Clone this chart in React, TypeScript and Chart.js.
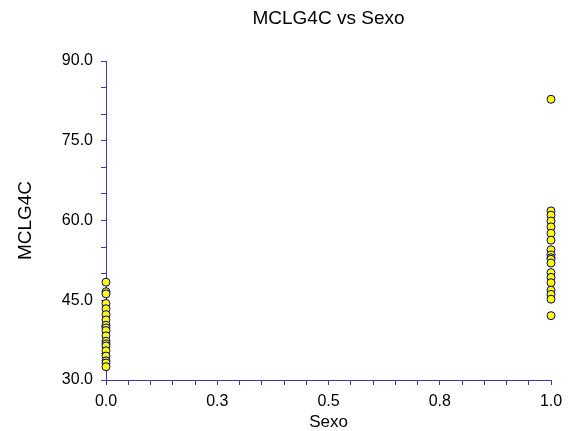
import React, { useEffect, useRef } from "react";
import { Chart, registerables } from "chart.js";

Chart.register(...registerables);

const chartTitle = "MCLG4C vs Sexo";
const xTitle = "Sexo";
const yTitle = "MCLG4C";

// MCLG4C values for Sexo = 0
const sexo0Values = [48.4, 46.6, 46.2, 44.4, 43.4, 42.3, 41.3, 40.3, 39.8, 39.3, 38.3, 37.3, 36.8, 36.4, 35.5, 34.5, 33.6, 33.2, 32.5];
// MCLG4C values for Sexo = 1
const sexo1Values = [82.8, 61.8, 61.0, 59.9, 58.8, 57.6, 56.3, 54.5, 53.5, 53.0, 52.7, 52.0, 50.2, 49.3, 48.3, 46.9, 46.1, 45.2, 42.1];

const xMin = 0, xMax = 1, xStep = 0.05;
const yMin = 30, yMax = 90, yStep = 5;
const yLabelValues = [30, 45, 60, 75, 90];
const xLabelValues = [0, 0.25, 0.5, 0.75, 1];

const FONT = "'Liberation Sans', Arial, sans-serif";
const AXIS_COLOR = "#3a3ab0";

export default function App() {
  const ref = useRef<HTMLCanvasElement | null>(null);

  useEffect(() => {
    if (!ref.current) return;
    const points = [
      ...sexo0Values.map((v) => ({ x: 0, y: v })),
      ...sexo1Values.map((v) => ({ x: 1, y: v })),
    ];
    const chart = new Chart(ref.current, {
      type: "scatter",
      data: {
        datasets: [
          {
            data: points,
            backgroundColor: "#ffff00",
            borderColor: "#000080",
            borderWidth: 1,
            pointRadius: 4,
            clip: false,
          } as any,
        ],
      },
      options: {
        responsive: false,
        animation: false,
        layout: { padding: { left: 0, right: 28, top: 0, bottom: 0 } },
        plugins: {
          legend: { display: false },
          tooltip: { enabled: false },
          title: {
            display: true,
            text: chartTitle,
            fullSize: false,
            color: "#000",
            font: { family: FONT, size: 19, weight: "normal", lineHeight: 1.2 },
            padding: { top: 7, bottom: 31.2 },
          },
        },
        scales: {
          x: {
            type: "linear",
            min: xMin,
            max: xMax,
            afterFit: (s: any) => { s.height = 51; },
            grid: { display: true, drawOnChartArea: false, drawTicks: true, tickLength: 5, color: AXIS_COLOR },
            border: { display: true, color: AXIS_COLOR, width: 1 },
            ticks: {
              stepSize: xStep,
              autoSkip: false,
              maxRotation: 0,
              padding: 7,
              color: "#000",
              font: { family: FONT, size: 16 },
              callback: (v: any) => {
                const n = Number(v);
                return xLabelValues.some((l) => Math.abs(l - n) < 1e-6) ? n.toFixed(1) : "";
              },
            },
            title: {
              display: true,
              text: xTitle,
              color: "#000",
              font: { family: FONT, size: 17, lineHeight: 1 },
              padding: { top: 0, bottom: 0 },
            },
          },
          y: {
            type: "linear",
            min: yMin,
            max: yMax,
            afterFit: (s: any) => { s.width = 106; },
            grid: { display: true, drawOnChartArea: false, drawTicks: true, tickLength: 5, color: AXIS_COLOR },
            border: { display: true, color: AXIS_COLOR, width: 1 },
            ticks: {
              stepSize: yStep,
              autoSkip: false,
              padding: 8,
              color: "#000",
              font: { family: FONT, size: 16 },
              callback: (v: any) => {
                const n = Number(v);
                return yLabelValues.some((l) => Math.abs(l - n) < 1e-6) ? n.toFixed(1) : "";
              },
            },
            title: {
              display: true,
              text: yTitle,
              color: "#000",
              font: { family: FONT, size: 19, lineHeight: 1 },
              padding: { top: 16.5, bottom: 0 },
            },
          },
        },
      },
    });
    return () => chart.destroy();
  }, []);

  return (
    <div style={{ position: "fixed", left: 0, top: 0, width: 579, height: 431, background: "#fff" }}>
      <canvas ref={ref} width={579} height={431} style={{ display: "block" }} />
    </div>
  );
}
